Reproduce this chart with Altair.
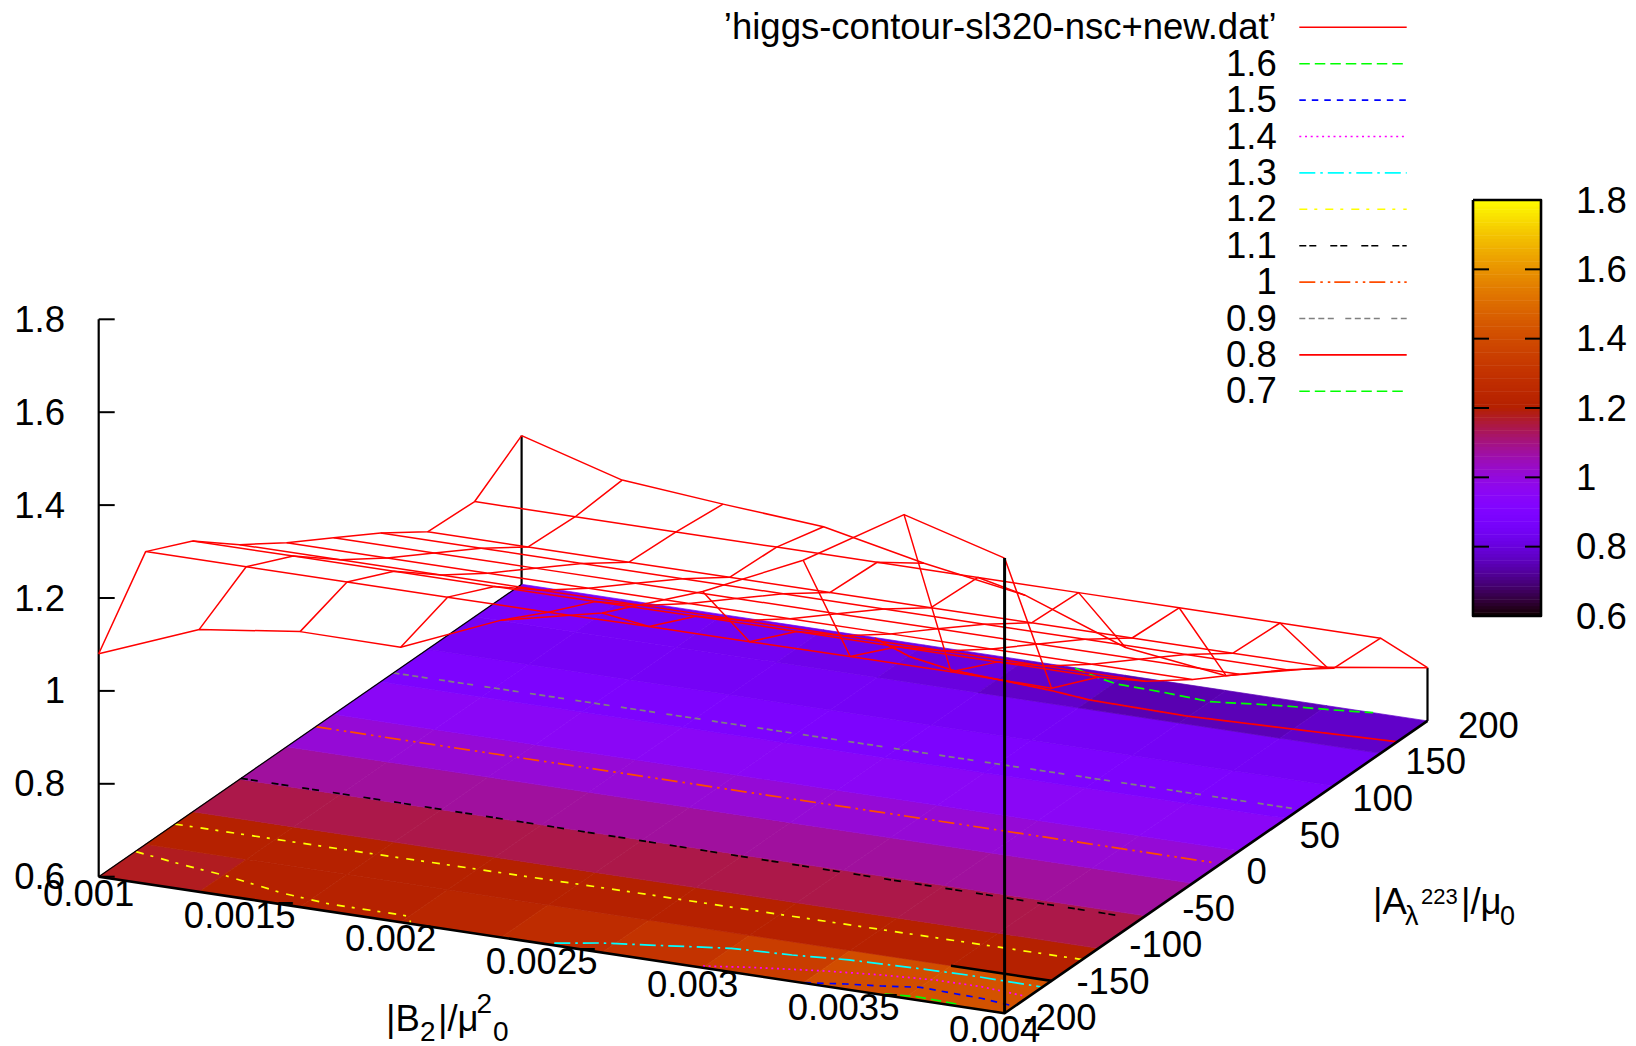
import math
import altair as alt
import pandas as pd

W, H = 1620, 1038

# ---- data -----------------------------------------------------------------
B_GRID = [0.001, 0.001333, 0.001667, 0.002, 0.002333, 0.002667, 0.003, 0.003333, 0.003667, 0.004]
A_GRID = [-200, -155.6, -111.1, -66.7, -22.2, 22.2, 66.7, 111.1, 155.6, 200]
Z_ROW0 = [1.080, 1.165, 1.193, 1.192, 1.283, 1.331, 1.410, 1.510, 1.641, 1.580]
Z_ROW1 = [1.230, 1.230, 1.230, 1.230, 1.230, 1.232, 1.232, 1.233, 1.233, 1.230]
Z_ROW2 = [1.183, 1.183, 1.183, 1.183, 1.183, 1.184, 1.184, 1.184, 1.184, 1.184]
Z_ROW3 = [1.105, 1.105, 1.105, 1.105, 1.105, 1.105, 1.105, 1.105, 1.105, 1.105]
Z_ROW4 = [1.039, 1.039, 1.039, 1.039, 1.039, 1.039, 1.039, 1.039, 1.039, 1.039]
Z_ROW5 = [0.980, 0.980, 0.980, 0.980, 0.980, 0.980, 0.980, 0.980, 0.980, 0.980]
Z_ROW6 = [0.920, 0.920, 0.920, 0.920, 0.920, 0.920, 0.920, 0.920, 0.920, 0.920]
Z_ROW7 = [0.853, 0.853, 0.853, 0.853, 0.853, 0.853, 0.853, 0.853, 0.853, 0.853]
Z_ROW8 = [0.848, 0.848, 0.848, 0.848, 0.848, 0.848, 0.848, 0.848, 0.848, 0.848]
Z_ROW9 = [0.920, 0.857, 0.838, 0.822, 0.776, 0.740, 0.660, 0.632, 0.683, 0.7145]
Z_ROWS = [Z_ROW0, Z_ROW1, Z_ROW2, Z_ROW3, Z_ROW4, Z_ROW5, Z_ROW6, Z_ROW7, Z_ROW8, Z_ROW9]

C16_B = [0.003598, 0.003697, 0.003771, 0.003832]
C16_A = [-198.6, -196.2, -197.0, -197.7]
C15_B = [0.003336, 0.003453, 0.003558, 0.00367, 0.003769, 0.003877, 0.003996]
C15_A = [-199.5, -194.0, -190.2, -185.0, -186.2, -187.1, -190.3]
C14_B = [0.002994, 0.003124, 0.003333, 0.003514, 0.003679, 0.003832, 0.003985]
C14_A = [-198.0, -191.6, -183.3, -177.8, -174.4, -174.0, -177.2]
C13_B = [0.0025, 0.002623, 0.002766, 0.003001, 0.003193, 0.003367, 0.003586, 0.003748, 0.003993]
C13_A = [-197.5, -189.6, -183.5, -173.3, -170.5, -166.4, -164.3, -163.3, -164.1]
C12A_B = [0.001003, 0.001185, 0.001342, 0.001567, 0.001734, 0.001975, 0.002004, 0.002028]
C12A_A = [-165.6, -172.5, -177.4, -187.4, -191.6, -191.7, -192.2, -198.9]
C12B_B = [0.001, 0.0015, 0.002, 0.0025, 0.003, 0.0035, 0.004]
C12B_A = [-128.0, -128.0, -127.5, -127.0, -127.0, -126.8, -126.5]
C11_B = [0.001, 0.0015, 0.002, 0.0025, 0.003, 0.0035, 0.00394]
C11_A = [-65.5, -66.0, -67.0, -68.0, -69.0, -70.0, -71.0]
C10_B = [0.001, 0.0015, 0.002, 0.0025, 0.003, 0.0035, 0.00398]
C10_A = [5.2, 5.0, 4.9, 4.8, 4.8, 4.7, 4.6]
C09_B = [0.001, 0.0015, 0.002, 0.0025, 0.003, 0.0035, 0.00398]
C09_A = [78.8, 78.8, 78.8, 78.8, 78.8, 78.8, 78.8]
C08_B = [0.002173, 0.002341, 0.002506, 0.002677, 0.00286, 0.003, 0.003325, 0.003646, 0.003998]
C08_A = [199.2, 184.4, 176.6, 173.6, 170.3, 166.3, 164.7, 167.8, 171.4]
C07_B = [0.002835, 0.002941, 0.00301, 0.003169, 0.003333, 0.00346, 0.003559, 0.0037, 0.00382]
C07_A = [199.4, 192.4, 188.8, 187.4, 184.7, 189.5, 192.8, 196.3, 200.0]

LEGEND_LABELS = ["\u2019higgs-contour-sl320-nsc+new.dat\u2019", "1.6", "1.5", "1.4", "1.3", "1.2",
                 "1.1", "1", "0.9", "0.8", "0.7"]
LEGEND_COLORS = ["#ff0000", "#00ff00", "#0000ff", "#ff00ff", "#00ffff", "#ffff00",
                 "#000000", "#ff4c00", "#808080", "#ff0000", "#00ff00"]
LEGEND_DASH = [[1, 0], [10.5, 5], [6.5, 6], [2, 3.7], [16, 5, 2.5, 5], [8, 7, 3, 8],
               [7, 3, 7, 14], [16, 5, 2.5, 5, 2.5, 4], [6, 3.5, 6, 3.5, 6, 3.5, 6, 11.5], [1, 0], [10.5, 5]]

Z_TICKS = [0.6, 0.8, 1.0, 1.2, 1.4, 1.6, 1.8]
Z_TICK_LABELS = ["0.6", "0.8", "1", "1.2", "1.4", "1.6", "1.8"]
B_TICKS = [0.001, 0.0015, 0.002, 0.0025, 0.003, 0.0035, 0.004]
B_TICK_LABELS = ["0.001", "0.0015", "0.002", "0.0025", "0.003", "0.0035", "0.004"]
A_TICKS = [-200, -150, -100, -50, 0, 50, 100, 150, 200]
A_TICK_LABELS = ["-200", "-150", "-100", "-50", "0", "50", "100", "150", "200"]

FONT = "Liberation Sans"
FS = 36.5


# ---- orthographic view of the gnuplot splot (page pixels minus 8 px margin) --
def proj(b, a, z=0.6):
    u = (b - 0.001) / 0.003
    v = (a + 200.0) / 400.0
    x = 98.7 + 905.9 * u + 422.9 * v
    y = 876.7 + 136.6 * u - 292.4 * v - (z - 0.6) * 464.5
    return x - 8, y - 8


def palette(z):
    t = max(0.0, min(1.0, (z - 0.6) / 1.2))
    r = math.sqrt(t)
    g = t ** 3
    b = max(0.0, math.sin(2 * math.pi * t))
    return "#%02x%02x%02x" % (round(r * 255), round(g * 255), round(b * 255))


xs = alt.Scale(domain=[0, W], nice=False, zero=False)
ys = alt.Scale(domain=[H, 0], nice=False, zero=False)
X = alt.X("x:Q", scale=xs, axis=None)
Y = alt.Y("y:Q", scale=ys, axis=None)


def lines(rows, color, width, dash=None):
    mk = dict(color=color, strokeWidth=width, clip=False, strokeJoin="round")
    if dash:
        mk["strokeDash"] = dash
    return alt.Chart(pd.DataFrame(rows)).mark_line(**mk).encode(
        x=X, y=Y, detail="k:N", order="o:Q")


def polyline(points, key=0):
    return [dict(x=p[0], y=p[1], k=key, o=n) for n, p in enumerate(points)]


# surface cells (pm3d at base, flat colour = mean of the 4 corners)
features = []
for j in range(9):
    for i in range(9):
        corners = [(i, j), (i + 1, j), (i + 1, j + 1), (i, j + 1)]
        mean = sum(Z_ROWS[n][m] for m, n in corners) / 4
        ring = [list(proj(B_GRID[m], A_GRID[n])) for m, n in corners]
        ring.append(ring[0])
        features.append({"type": "Feature", "properties": {"fill": palette(mean)},
                         "geometry": {"type": "Polygon", "coordinates": [ring]}})
surface = alt.Chart(alt.InlineData(
    values={"type": "FeatureCollection", "features": features},
    format=alt.DataFormat(property="features", type="json"))).mark_geoshape(
    strokeWidth=0.7, clip=False
).encode(
    fill=alt.Fill("properties.fill:N", scale=None),
    stroke=alt.Stroke("properties.fill:N", scale=None),
).project(type="identity", scale=1, translate=[0, 0])

layers = [surface]

# base contours
contours = [
    (C16_B, C16_A, 1), (C15_B, C15_A, 2), (C14_B, C14_A, 3), (C13_B, C13_A, 4),
    (C12A_B, C12A_A, 5), (C12B_B, C12B_A, 5), (C11_B, C11_A, 6), (C10_B, C10_A, 7),
    (C09_B, C09_A, 8), (C08_B, C08_A, 9), (C07_B, C07_A, 10),
]
for bs, aa, idx in contours:
    pts = [proj(b, a) for b, a in zip(bs, aa)]
    layers.append(lines(polyline(pts), LEGEND_COLORS[idx], 1.7, LEGEND_DASH[idx]))

# borders of the base and axes
c_fl = proj(0.001, -200)
c_fr = proj(0.004, -200)
c_br = proj(0.004, 200)
c_bl = proj(0.001, 200)
layers.append(lines(polyline([c_bl, c_fl]), "#000000", 1.2))
layers.append(lines(polyline([c_fl, c_fr, c_br]), "#000000", 2.6))
layers.append(lines(polyline([proj(B_GRID[8], A_GRID[1]), proj(B_GRID[9], A_GRID[1])]), "#000000", 2.6))
layers.append(lines(polyline([proj(0.001, 200), proj(0.001, 200, Z_ROW9[0])]), "#000000", 2.2))
layers.append(lines(polyline([proj(0.004, 200), proj(0.004, 200, Z_ROW9[9])]), "#000000", 2.2))

# z axis
layers.append(lines(polyline([proj(0.001, -200, Z_TICKS[0]), proj(0.001, -200, Z_TICKS[-1])]), "#000000", 2.2))
tick_rows = []
for n, z in enumerate(Z_TICKS):
    x0, y0 = proj(0.001, -200, z)
    tick_rows += [dict(x=x0, y=y0, k=n, o=0), dict(x=x0 + 16, y=y0, k=n, o=1)]
layers.append(lines(tick_rows, "#000000", 2.0))

# wire mesh
wire = []
key = 0
for j in range(10):
    wire += polyline([proj(B_GRID[i], A_GRID[j], Z_ROWS[j][i]) for i in range(10)], key)
    key += 1
for i in range(10):
    wire += polyline([proj(B_GRID[i], A_GRID[j], Z_ROWS[j][i]) for j in range(10)], key)
    key += 1
layers.append(lines(wire, "#ff0000", 1.5))

# front-right vertical is drawn over the mesh
layers.append(lines(polyline([proj(0.004, -200), proj(0.004, -200, Z_ROW0[9])]), "#000000", 3.0))


def texts(rows, align, baseline="middle", size=FS):
    return alt.Chart(pd.DataFrame(rows)).mark_text(
        align=align, baseline=baseline, font=FONT, fontSize=size, color="#000000", clip=False
    ).encode(x=X, y=Y, text="t:N")


# tick labels
rows = []
for z, t in zip(Z_TICKS, Z_TICK_LABELS):
    x0, y0 = proj(0.001, -200, z)
    rows.append(dict(x=65 - 8, y=y0 + 1.5, t=t))
layers.append(texts(rows, "right"))

rows = []
for b, t in zip(B_TICKS, B_TICK_LABELS):
    x0, y0 = proj(b, -200)
    rows.append(dict(x=x0 - 10, y=y0 + 18, t=t))
layers.append(texts(rows, "center"))

rows = []
for a, t in zip(A_TICKS, A_TICK_LABELS):
    x0, y0 = proj(0.004, a)
    rows.append(dict(x=x0 + (19 if a < 0 else 30.5), y=y0 + 6, t=t))
layers.append(texts(rows, "left"))

# axis titles
layers.append(texts([dict(x=386 - 8, y=1031 - 8, t="|B"), dict(x=438 - 8, y=1031 - 8, t="|/\u03bc")],
                    "left", "alphabetic"))
layers.append(texts([dict(x=420 - 8, y=1041 - 8, t="2"), dict(x=476.5 - 8, y=1012.5 - 8, t="2"),
                     dict(x=493 - 8, y=1041 - 8, t="0")], "left", "alphabetic", 28))
layers.append(texts([dict(x=1373 - 8, y=913.5 - 8, t="|A"), dict(x=1461 - 8, y=913.5 - 8, t="|/\u03bc")],
                    "left", "alphabetic"))
layers.append(texts([dict(x=1405 - 8, y=924.5 - 8, t="\u03bb"), dict(x=1500 - 8, y=925 - 8, t="0")],
                    "left", "alphabetic", 27))
layers.append(texts([dict(x=1421 - 8, y=903.5 - 8, t="223")], "left", "alphabetic", 22))

# key
rows = []
for n, t in enumerate(LEGEND_LABELS):
    yy = 27.3 + 36.4 * n - 8
    rows.append(dict(x=1276.7 - 8, y=yy + 1, t=t))
    layers.append(lines(polyline([(1299.3 - 8, yy), (1406.7 - 8, yy)]), LEGEND_COLORS[n], 1.6, LEGEND_DASH[n]))
layers.append(texts(rows, "right"))

# colour box
CB_L, CB_R, CB_T, CB_B = 1473 - 8, 1541 - 8, 200 - 8, 616 - 8
STEPS = 128
bar = []
for n in range(STEPS):
    z0 = 0.6 + 1.2 * n / STEPS
    z1 = 0.6 + 1.2 * (n + 1) / STEPS
    bar.append(dict(x=CB_L, x2=CB_R,
                    y=CB_B - (z0 - 0.6) / 1.2 * (CB_B - CB_T),
                    y2=CB_B - (z1 - 0.6) / 1.2 * (CB_B - CB_T) - 0.4,
                    c=palette((z0 + z1) / 2)))
layers.append(alt.Chart(pd.DataFrame(bar)).mark_rect(clip=False).encode(
    x=X, x2="x2:Q", y=Y, y2="y2:Q", color=alt.Color("c:N", scale=None)))
rows = []
tk = []
for n, (z, t) in enumerate(zip(Z_TICKS, Z_TICK_LABELS)):
    yy = CB_B - (z - 0.6) / 1.2 * (CB_B - CB_T)
    rows.append(dict(x=1576 - 8, y=yy + 1.5, t=t))
    tk += polyline([(CB_L, yy), (CB_L + 16, yy)], 2 * n)
    tk += polyline([(CB_R - 16, yy), (CB_R, yy)], 2 * n + 1)
layers.append(lines(tk, "#000000", 2.0))
layers.append(lines(polyline([(CB_L, CB_T), (CB_R, CB_T), (CB_R, CB_B), (CB_L, CB_B), (CB_L, CB_T)]), "#000000", 2.6))
layers.append(texts(rows, "left"))

chart = alt.layer(*layers).properties(
    width=W, height=H, padding=0, autosize=alt.AutoSizeParams(type="none"),
    background="white"
).configure_view(stroke=None, strokeWidth=0)

chart.save("out.html", embed_options={"renderer": "svg", "actions": False})
